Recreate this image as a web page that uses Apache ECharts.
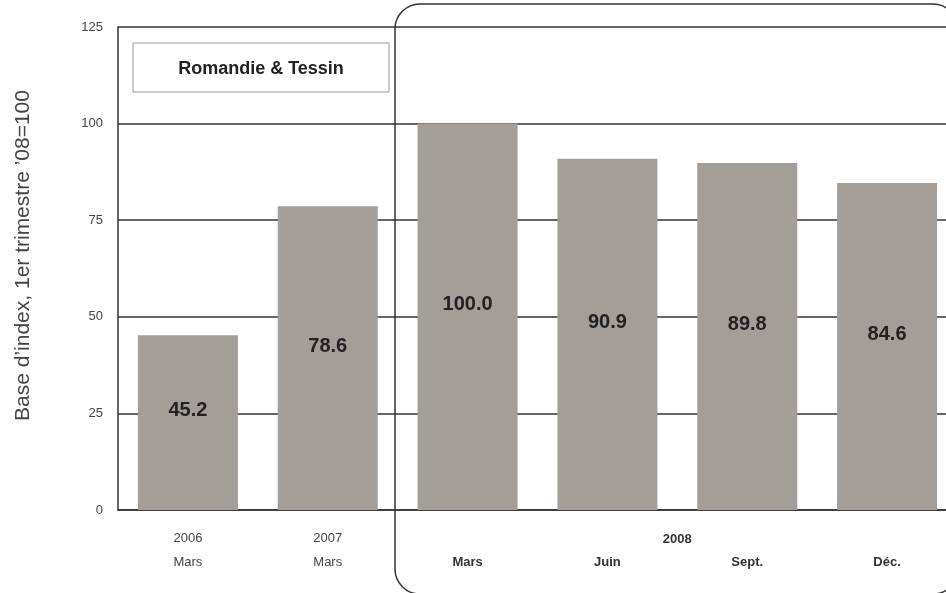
<!DOCTYPE html>
<html>
<head>
<meta charset="utf-8">
<script src="https://cdn.jsdelivr.net/npm/echarts@6/dist/echarts.min.js"></script>
<style>
  html, body { margin: 0; padding: 0; background: #fff; overflow: hidden; }
  /* the chart runs slightly past the right edge of the window, as in the original */
  #main { width: 957px; height: 593px; }
</style>
</head>
<body>
<div id="main"></div>
<script>
// data
var years = ['2006', '2007', '2008', '2008', '2008', '2008'];
var months = ['Mars', 'Mars', 'Mars', 'Juin', 'Sept.', 'Déc.'];
var values = [45.2, 78.6, 100.0, 90.9, 89.8, 84.6];
var groupYear = '2008';
var yTicks = [0, 25, 50, 75, 100, 125];

var FONT = '"Liberation Sans", Arial, sans-serif';
var categories = months.map(function (m, i) { return years[i] + ' ' + m; });

var chart = echarts.init(document.getElementById('main'));

chart.setOption({
  animation: false,
  backgroundColor: '#fff',
  grid: { left: 118, top: 27, bottom: 83, right: 0 },
  xAxis: {
    type: 'category',
    data: categories,
    axisLine: { lineStyle: { color: '#333', width: 1.5 } },
    axisTick: { show: false },
    axisLabel: {
      margin: 16,
      fontFamily: FONT,
      fontSize: 13,
      color: '#444',
      lineHeight: 24,
      formatter: function (v, i) {
        if (years[i] === groupYear) return '\n{b|' + months[i] + '}';
        return years[i] + '\n' + months[i];
      },
      rich: { b: { fontFamily: FONT, fontSize: 13, fontWeight: 'bold', color: '#333', lineHeight: 24 } }
    }
  },
  yAxis: {
    type: 'value',
    min: yTicks[0],
    max: yTicks[yTicks.length - 1],
    interval: 25,
    name: 'Base d’index, 1er trimestre ’08=100',
    nameLocation: 'middle',
    nameGap: 84,
    nameTextStyle: { fontFamily: FONT, fontSize: 21, color: '#444', padding: [0, 0, 0, 26] },
    axisLine: { show: true, lineStyle: { color: '#333', width: 1.5 } },
    axisTick: { show: false },
    axisLabel: { fontFamily: FONT, fontSize: 13, color: '#444', margin: 15 },
    splitLine: { lineStyle: { color: '#333', width: 1.5 } }
  },
  series: [{
    type: 'bar',
    data: values,
    barWidth: 100,
    itemStyle: { color: '#a39e98' },
    label: {
      show: true,
      position: 'inside',
      offset: [0, -12],
      fontFamily: FONT,
      fontSize: 20,
      fontWeight: 'bold',
      color: '#222',
      formatter: function (p) { return p.value.toFixed(1); }
    },
    z: 3
  }]
});

// year label for the 2008 group, centered over its categories
var first = years.indexOf(groupYear);
var last = years.lastIndexOf(groupYear);
var x0 = chart.convertToPixel({ xAxisIndex: 0 }, categories[first]);
var x1 = chart.convertToPixel({ xAxisIndex: 0 }, categories[last]);

chart.setOption({
  graphic: [
    {
      type: 'rect',
      shape: { x: 395, y: 4, width: 563, height: 590, r: 25 },
      style: { fill: 'none', stroke: '#333', lineWidth: 1.5 },
      z: 10
    },
    {
      type: 'rect',
      shape: { x: 133, y: 43, width: 256, height: 49 },
      style: { fill: '#fff', stroke: '#999', lineWidth: 1 },
      z: 10
    },
    {
      type: 'text',
      x: 261, y: 69,
      style: {
        text: 'Romandie & Tessin', fontFamily: FONT, fontSize: 18, fontWeight: 'bold',
        fill: '#222', align: 'center', verticalAlign: 'middle'
      },
      z: 11
    },
    {
      type: 'text',
      x: (x0 + x1) / 2, y: 539,
      style: {
        text: groupYear, fontFamily: FONT, fontSize: 13, fontWeight: 'bold',
        fill: '#333', align: 'center', verticalAlign: 'middle'
      },
      z: 11
    }
  ]
});
</script>
</body>
</html>
